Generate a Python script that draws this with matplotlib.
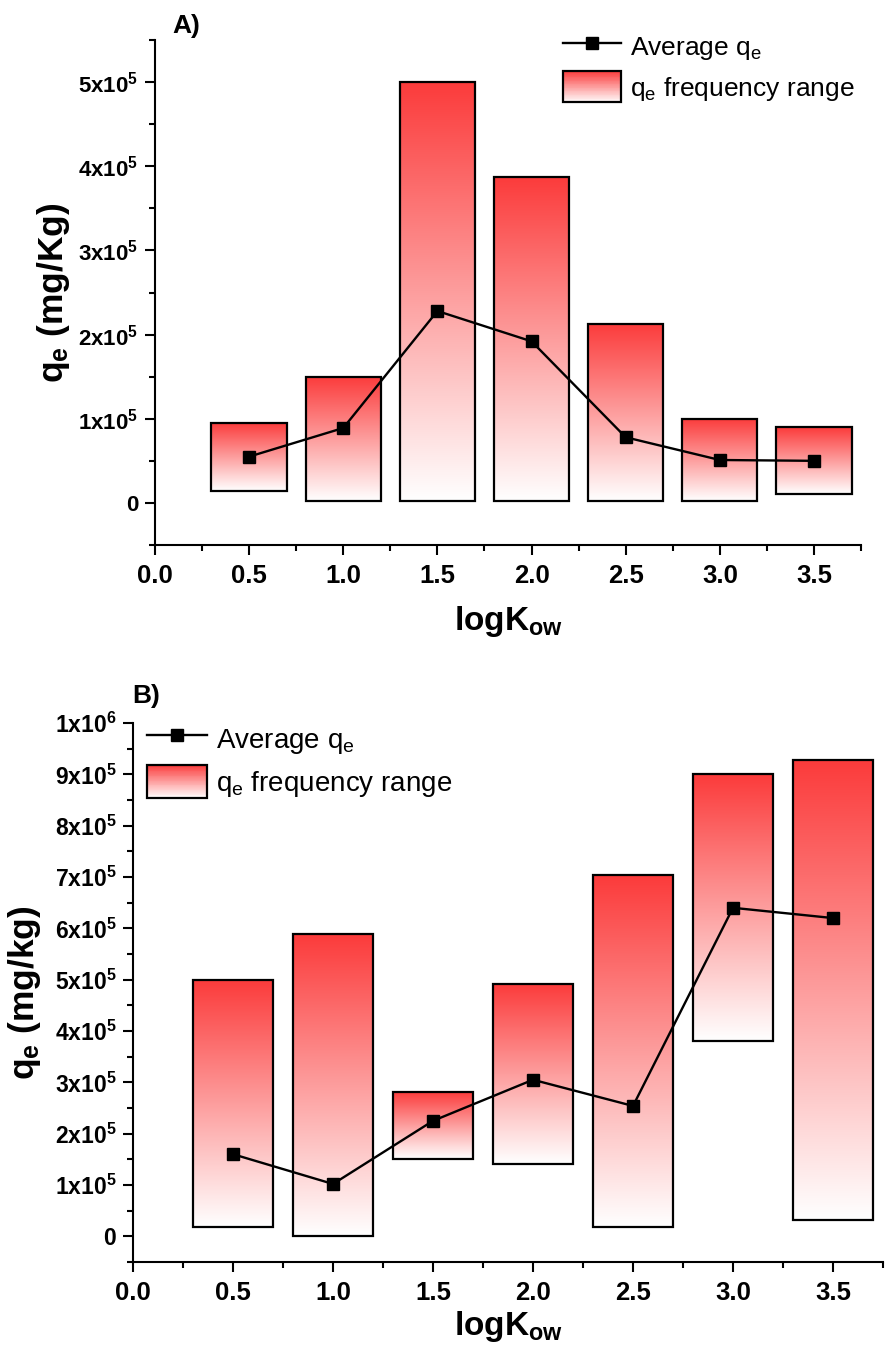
import numpy as np
import matplotlib
matplotlib.use("Agg")
import matplotlib.pyplot as plt
from matplotlib.colors import LinearSegmentedColormap
from matplotlib.patches import Rectangle
from matplotlib.lines import Line2D
from matplotlib.legend_handler import HandlerBase
from matplotlib.ticker import MultipleLocator, FixedLocator, FixedFormatter

plt.rcParams['font.family'] = ['Liberation Sans', 'DejaVu Sans']
plt.rcParams['mathtext.fontset'] = 'custom'
plt.rcParams['mathtext.rm'] = 'Liberation Sans'
plt.rcParams['mathtext.bf'] = 'Liberation Sans:bold'
plt.rcParams['mathtext.default'] = 'regular'

# ---- data ----
log_kow = [0.5, 1.0, 1.5, 2.0, 2.5, 3.0, 3.5]

# Panel A
a_low = [14000, 2000, 2000, 2000, 2000, 2000, 11000]
a_high = [95000, 150000, 500000, 387000, 213000, 100000, 90000]
a_avg = [55000, 89000, 228000, 192000, 78000, 51000, 50000]

# Panel B
b_low = [18000, 0, 150000, 141000, 18000, 381000, 31000]
b_high = [500000, 588000, 282000, 492000, 703000, 900000, 928000]
b_avg = [160000, 102000, 225000, 305000, 254000, 640000, 620000]

a_yticks = [0, 100000, 200000, 300000, 400000, 500000]
a_yticklabels = ['0', '1x10$^{5}$', '2x10$^{5}$', '3x10$^{5}$', '4x10$^{5}$', '5x10$^{5}$']
b_yticks = [0, 100000, 200000, 300000, 400000, 500000, 600000, 700000, 800000, 900000, 1000000]
b_yticklabels = ['0'] + ['%dx10$^{5}$' % i for i in range(1, 10)] + ['1x10$^{6}$']
xticks = [0.0, 0.5, 1.0, 1.5, 2.0, 2.5, 3.0, 3.5]

RED = np.array([251, 59, 59]) / 255.0
WHITE = np.array([1.0, 1.0, 1.0])
cmap = LinearSegmentedColormap.from_list('redfade', [WHITE, RED])
BAR_W = 0.4


class GradientHandler(HandlerBase):
    def create_artists(self, legend, orig_handle, xdescent, ydescent,
                       width, height, fontsize, trans):
        n = 40
        x0 = -xdescent
        y0 = -ydescent
        arts = []
        for i in range(n):
            t = (i + 0.5) / n
            c = WHITE + (RED - WHITE) * t
            arts.append(Rectangle((x0, y0 + height * i / n), width, height / n + 0.3,
                                  facecolor=c, edgecolor='none', transform=trans))
        arts.append(Rectangle((x0, y0), width, height, facecolor='none',
                              edgecolor='black', lw=1.6, transform=trans))
        return arts


def draw_panel(ax, low, high, avg, ylim, yticks, yticklabels, ylabel,
               legend_anchor, label_fs_y, legend_fs, handlelength):
    grad = np.linspace(0, 1, 256).reshape(-1, 1)
    for x, lo, hi in zip(log_kow, low, high):
        ax.imshow(grad, extent=[x - BAR_W / 2, x + BAR_W / 2, lo, hi],
                  origin='lower', aspect='auto', cmap=cmap, zorder=1,
                  interpolation='bilinear')
        ax.add_patch(Rectangle((x - BAR_W / 2, lo), BAR_W, hi - lo,
                               facecolor='none', edgecolor='black', lw=1.6, zorder=2))
    ax.plot(log_kow, avg, color='black', lw=1.7, marker='s', markersize=8, zorder=3)

    ax.set_xlim(0, 3.75)
    ax.set_ylim(*ylim)
    for s in ['top', 'right']:
        ax.spines[s].set_visible(False)
    for s in ['left', 'bottom']:
        ax.spines[s].set_linewidth(1.5)

    ax.xaxis.set_major_locator(FixedLocator(xticks))
    ax.xaxis.set_minor_locator(MultipleLocator(0.25))
    ax.set_xticklabels(['%.1f' % v for v in xticks])
    ax.yaxis.set_major_locator(FixedLocator(yticks))
    ax.yaxis.set_major_formatter(FixedFormatter(yticklabels))
    ax.yaxis.set_minor_locator(MultipleLocator(50000))

    ax.tick_params(axis='both', which='major', direction='out', length=7, width=1.5)
    ax.tick_params(axis='both', which='minor', direction='out', length=4, width=1.5)
    ax.tick_params(axis='x', which='major', labelsize=18.5, pad=7)
    ax.tick_params(axis='y', which='major', labelsize=label_fs_y, pad=5)
    for lab in ax.get_xticklabels() + ax.get_yticklabels():
        lab.set_fontweight('bold')

    ax.set_xlabel('logK$_{ow}$', fontsize=24, fontweight='bold')
    ax.set_ylabel(ylabel, fontsize=25.5, fontweight='bold')

    h_line = Line2D([], [], color='black', lw=1.7, marker='s', markersize=8)
    h_bar = Rectangle((0, 0), 1, 1)
    ax.legend([h_line, h_bar], ['Average q$_{e}$', 'q$_{e}$ frequency range'],
              handler_map={Rectangle: GradientHandler()},
              loc='upper left', bbox_to_anchor=legend_anchor,
              bbox_transform=ax.figure.transFigure, frameon=False,
              fontsize=legend_fs, handlelength=handlelength, handleheight=1.45,
              handletextpad=0.35, labelspacing=0.33, borderpad=0,
              borderaxespad=0, numpoints=1)


W, H = 886, 1363
fig = plt.figure(figsize=(W / 100, H / 100), dpi=100)

axA = fig.add_axes([155 / W, 1 - 545 / H, (861 - 155) / W, (545 - 40) / H])
draw_panel(axA, a_low, a_high, a_avg, (-50000, 550000), a_yticks, a_yticklabels,
           'q$_{e}$ (mg/Kg)', (563 / W, 1 - 31 / H), 16, 19, 2.2)
axA.yaxis.set_label_coords(-0.117, 0.5)
axA.xaxis.set_label_coords(0.5, -0.117)

axB = fig.add_axes([133 / W, 1 - 1262 / H, (883 - 133) / W, (1262 - 723) / H])
draw_panel(axB, b_low, b_high, b_avg, (-50000, 1000000), b_yticks, b_yticklabels,
           'q$_{e}$ (mg/kg)', (147 / W, 1 - 722 / H), 16.5, 20, 2.15)
axB.yaxis.set_label_coords(-0.12, 0.5)
axB.xaxis.set_label_coords(0.5, -0.088)

fig.text(172 / W, 1 - 26 / H, 'A)', fontsize=19, fontweight='bold', va='center', ha='left')
fig.text(132 / W, 1 - 696 / H, 'B)', fontsize=19, fontweight='bold', va='center', ha='left')

fig.savefig('out.png', dpi=100)
